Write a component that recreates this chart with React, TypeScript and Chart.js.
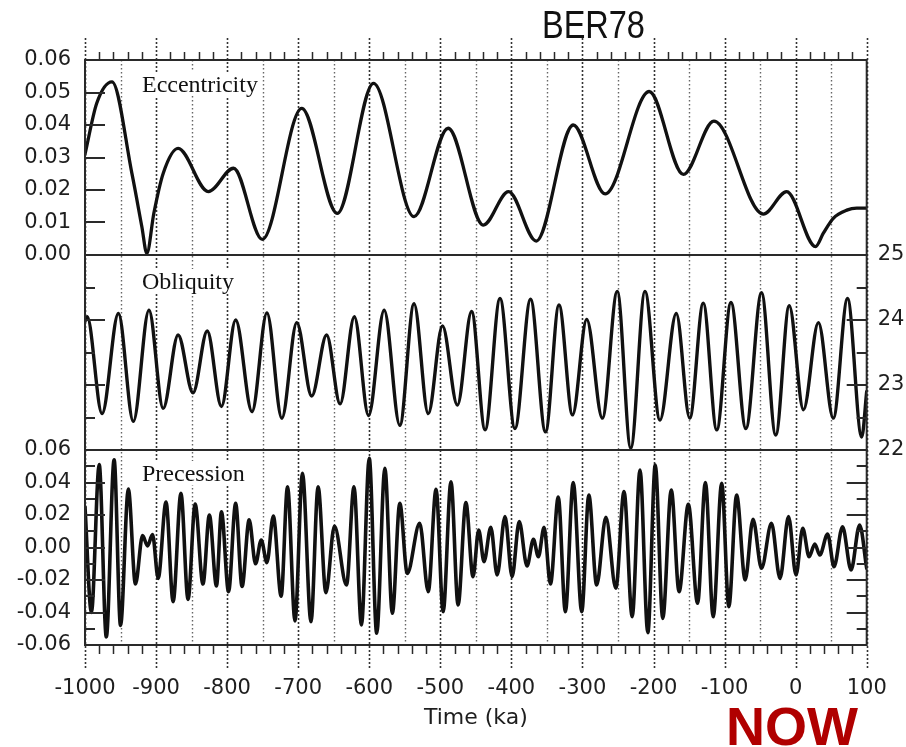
import React, { useEffect, useRef } from 'react';
import { Chart, registerables } from 'chart.js';

Chart.register(...registerables);

// ---------- data (time in ka, value) ----------
const eccTime = [-1000, -983.5, -962, -934, -920, -913, -903, -890, -869, -826.5, -791, -750.5, -695, -645, -594, -537, -489, -439.5, -404, -365, -313, -268, -206, -158, -115, -45.5, -12.6, 28, 39, 53, 72, 86, 100];
const eccValue = [0.031, 0.0467, 0.0533, 0.0251, 0.0087, 0.0005, 0.013, 0.0251, 0.0328, 0.0195, 0.0267, 0.0048, 0.0451, 0.0128, 0.0528, 0.0118, 0.039, 0.0092, 0.0195, 0.0043, 0.04, 0.0188, 0.0503, 0.0248, 0.0412, 0.0126, 0.0195, 0.0026, 0.0067, 0.0113, 0.0138, 0.0144, 0.0144];

const oblTime = [-1000, -997, -976, -953, -932, -910, -890, -869, -848, -828, -808, -788, -765, -744, -723, -702, -681, -660, -641, -621, -601, -579, -557, -537, -517, -497, -476, -456, -437, -416, -395, -373, -352, -333, -314, -294, -272, -251, -232, -212, -191, -168, -149, -130, -111, -91, -70, -48, -28, -9, 11, 32, 53, 73, 93, 100];
const oblValue = [23.98, 24.05, 22.56, 24.1, 22.44, 24.15, 22.64, 23.77, 22.88, 23.83, 22.67, 24.0, 22.59, 24.11, 22.49, 23.96, 22.83, 23.77, 22.71, 24.05, 22.53, 24.15, 22.38, 24.25, 22.56, 23.91, 22.69, 24.13, 22.31, 24.33, 22.33, 24.32, 22.28, 24.23, 22.54, 24.01, 22.49, 24.44, 22.03, 24.44, 22.46, 24.1, 22.49, 24.26, 22.31, 24.27, 22.33, 24.42, 22.23, 24.22, 22.62, 23.96, 22.49, 24.33, 22.2, 22.9];

const preTime = [-1000, -991, -980, -970, -959, -950, -939, -929, -919, -912, -905, -897, -886, -876, -865, -855, -845, -834, -825, -815, -808, -798, -788, -779, -769, -760, -752, -744, -735, -724, -715, -704.5, -694, -682, -672, -661, -649, -632, -621.5, -611, -600, -589.5, -578, -567.5, -557, -546.5, -529, -517, -506, -496, -485, -475, -464, -454, -446, -438.5, -429, -420, -409, -399, -389, -378, -369, -362, -354, -345, -334, -324, -313, -301, -291, -280, -267, -253, -241.5, -230, -219, -208, -197.5, -187, -175, -164, -151, -138, -127, -116, -104, -94, -83, -71, -60, -48, -34, -22, -10, 0.5, 10, 19, 27, 34, 45, 54, 66, 78, 90, 100];
const preValue = [0.025, -0.04, 0.051, -0.055, 0.054, -0.048, 0.036, -0.0225, 0.0073, 0.001, 0.008, -0.019, 0.028, -0.0333, 0.0333, -0.032, 0.0268, -0.0225, 0.02, -0.0237, 0.022, -0.0272, 0.0272, -0.024, 0.017, -0.01, 0.0046, -0.0093, 0.0194, -0.03, 0.0374, -0.0452, 0.0457, -0.0457, 0.0374, -0.0278, 0.0132, -0.0231, 0.0374, -0.0477, 0.0549, -0.0528, 0.0487, -0.0405, 0.0272, -0.0159, 0.0149, -0.0272, 0.0358, -0.0395, 0.0405, -0.0354, 0.0276, -0.018, 0.0108, -0.0087, 0.0124, -0.0169, 0.019, -0.018, 0.0159, -0.0114, 0.005, -0.0057, 0.0124, -0.0225, 0.031, -0.0395, 0.04, -0.0395, 0.0323, -0.0231, 0.0186, -0.0251, 0.0344, -0.0426, 0.0477, -0.0524, 0.0508, -0.0436, 0.0354, -0.0272, 0.0266, -0.0343, 0.04, -0.0426, 0.0395, -0.0364, 0.0323, -0.02, 0.0174, -0.0128, 0.0149, -0.019, 0.019, -0.0169, 0.0118, -0.0057, 0.0022, -0.0046, 0.0083, -0.0118, 0.0128, -0.0138, 0.0138, -0.0128];

// axis ranges and tick marks
const timeRange = [-1000, 100];
const eccRange = [0, 0.06];
const oblRange = [22, 25];
const preRange = [-0.06, 0.06];
const eccInnerTicks = [0.01, 0.02, 0.03, 0.04, 0.05];
const oblInnerTicks = [22.5, 23, 23.5, 24, 24.5];
const preInnerTicks = [-0.05, -0.04, -0.03, -0.02, -0.01, 0, 0.01, 0.02, 0.03, 0.04, 0.05];

const toXY = (t: number[], v: number[]) => t.map((x, i) => ({ x, y: v[i] }));

const INK = '#1e1e1e';
const tickFont = { family: '"DejaVu Sans", Verdana, sans-serif', size: 21 };

const decorPlugin = {
  id: 'decor',
  beforeDatasetsDraw(chart: any) {
    const { ctx, chartArea } = chart;
    const x = chart.scales.x;
    ctx.save();
    for (let v = timeRange[0]; v <= timeRange[1]; v += 50) {
      const px = Math.round(x.getPixelForValue(v)) + 0.5;
      const major = v % 100 === 0;
      ctx.beginPath();
      ctx.setLineDash(major ? [2, 2] : [1.5, 2.5]);
      ctx.strokeStyle = major ? '#333' : '#666';
      ctx.lineWidth = major ? 1.6 : 1.4;
      ctx.moveTo(px, major ? chartArea.top - 22 : chartArea.top);
      ctx.lineTo(px, major ? chartArea.bottom + 23 : chartArea.bottom);
      ctx.stroke();
    }
    ctx.restore();
  },
  afterDatasetsDraw(chart: any) {
    const { ctx, chartArea } = chart;
    const x = chart.scales.x;
    const panels = [chart.scales.yE, chart.scales.yO, chart.scales.yP];
    const L = chartArea.left;
    const R = chartArea.right;
    ctx.save();
    ctx.setLineDash([]);
    ctx.strokeStyle = '#2a2a2a';
    // minor time ticks (20 ka) on top and bottom edges
    ctx.beginPath();
    for (let v = timeRange[0]; v <= timeRange[1]; v += 20) {
      if (v % 100 === 0) continue;
      const px = Math.round(x.getPixelForValue(v)) + 0.5;
      ctx.moveTo(px, chartArea.top);
      ctx.lineTo(px, chartArea.top - 8);
      ctx.moveTo(px, chartArea.bottom);
      ctx.lineTo(px, chartArea.bottom + 9);
    }
    ctx.lineWidth = 1.5;
    ctx.stroke();
    // inward value ticks
    ctx.lineWidth = 2;
    ctx.beginPath();
    const yE = chart.scales.yE, yO = chart.scales.yO, yP = chart.scales.yP;
    eccInnerTicks.forEach((v) => {
      const py = Math.round(yE.getPixelForValue(v));
      ctx.moveTo(L, py); ctx.lineTo(L + 20, py);
    });
    oblInnerTicks.forEach((v) => {
      const py = Math.round(yO.getPixelForValue(v));
      const len = Number.isInteger(v) ? 20 : 10;
      ctx.moveTo(L, py); ctx.lineTo(L + len, py);
      ctx.moveTo(R, py); ctx.lineTo(R - len, py);
    });
    preInnerTicks.forEach((v) => {
      const py = Math.round(yP.getPixelForValue(v));
      const len = Math.round(v * 100) % 2 === 0 ? 20 : 10;
      ctx.moveTo(L, py); ctx.lineTo(L + len, py);
      ctx.moveTo(R, py); ctx.lineTo(R - len, py);
    });
    ctx.stroke();
    // panel frames
    panels.forEach((s: any) => {
      ctx.strokeRect(L, s.top, R - L, s.bottom - s.top);
    });
    ctx.restore();
  },
};

const hiddenY = (min: number, max: number, position: string, stack: string, weight: number, width: number) => ({
  type: 'linear',
  position,
  stack,
  weight,
  min,
  max,
  ticks: { display: false },
  grid: { display: false, drawTicks: false },
  border: { display: false },
  afterFit: (s: any) => { s.width = width; },
});

export default function App() {
  const ref = useRef<HTMLCanvasElement | null>(null);

  useEffect(() => {
    if (!ref.current) return;
    const line = (data: any, yAxisID: string, w: number) => ({
      data,
      yAxisID,
      xAxisID: 'x',
      borderColor: '#111',
      borderWidth: w,
      pointRadius: 0,
      fill: false,
      cubicInterpolationMode: 'monotone',
      borderJoinStyle: 'round',
      borderCapStyle: 'round',
    });
    const chart = new Chart(ref.current, {
      type: 'line',
      data: {
        datasets: [
          line(toXY(eccTime, eccValue), 'yE', 3.3),
          line(toXY(oblTime, oblValue), 'yO', 3.4),
          line(toXY(preTime, preValue), 'yP', 3.6),
        ] as any,
      },
      options: {
        animation: false,
        responsive: true,
        maintainAspectRatio: false,
        layout: { padding: { top: 60, left: 0, right: 0, bottom: 0 } },
        plugins: { legend: { display: false }, tooltip: { enabled: false }, title: { display: false } },
        scales: {
          x: {
            type: 'linear',
            position: 'bottom',
            min: timeRange[0],
            max: timeRange[1],
            ticks: {
              stepSize: 100,
              autoSkip: false,
              maxRotation: 0,
              padding: 0,
              color: INK,
              font: tickFont,
              callback: (v: any) => String(v),
            },
            grid: { display: true, drawOnChartArea: false, drawTicks: true, tickLength: 31, tickColor: 'rgba(0,0,0,0)', color: 'rgba(0,0,0,0)' },
            border: { display: false },
            title: {
              display: true,
              text: 'Time (ka)',
              color: INK,
              font: { family: tickFont.family, size: 22 },
              padding: { top: 0, bottom: 16 },
            },
            afterFit: (s: any) => { s.height = 102; },
          },
          yE: {
            type: 'linear',
            position: 'left',
            stack: 'L',
            weight: 3,
            min: eccRange[0],
            max: eccRange[1],
            ticks: {
              stepSize: 0.01,
              autoSkip: false,
              padding: 14,
              color: INK,
              font: tickFont,
              callback: (v: any) => Number(v).toFixed(2),
            },
            grid: { display: false, drawTicks: false },
            border: { display: false },
            afterFit: (s: any) => { s.width = 85; },
          },
          yO: hiddenY(oblRange[0], oblRange[1], 'left', 'L', 2, 85),
          yP: {
            type: 'linear',
            position: 'left',
            stack: 'L',
            weight: 1,
            min: preRange[0],
            max: preRange[1],
            ticks: {
              stepSize: 0.02,
              autoSkip: false,
              padding: 14,
              color: INK,
              font: tickFont,
              callback: (v: any) => (Math.abs(v) < 1e-9 ? '0.00' : Number(v).toFixed(2)),
            },
            grid: { display: false, drawTicks: false },
            border: { display: false },
            afterFit: (s: any) => { s.width = 85; },
          },
          rE: hiddenY(eccRange[0], eccRange[1], 'right', 'R', 1, 39.3),
          rO: {
            type: 'linear',
            position: 'right',
            stack: 'R',
            weight: 2,
            min: oblRange[0],
            max: oblRange[1],
            ticks: {
              stepSize: 1,
              autoSkip: false,
              padding: 11,
              color: INK,
              font: tickFont,
              callback: (v: any) => String(v),
            },
            grid: { display: false, drawTicks: false },
            border: { display: false },
            afterFit: (s: any) => { s.width = 39.3; },
          },
          rP: hiddenY(preRange[0], preRange[1], 'right', 'R', 3, 39.3),
        } as any,
      },
      plugins: [decorPlugin],
    });
    return () => chart.destroy();
  }, []);

  const serif = '24px "Liberation Serif", "Times New Roman", serif';
  const panelLabel = (text: string, top: number) => (
    <div style={{ position: 'absolute', left: 140, top, font: serif, lineHeight: '24px', color: '#111', background: '#fff', padding: '0 2px', whiteSpace: 'nowrap' }}>{text}</div>
  );

  return (
    <div style={{ position: 'fixed', left: 0, top: 0, width: 906, height: 747, background: '#fff', overflow: 'hidden' }}>
      <canvas ref={ref} style={{ position: 'absolute', left: 0, top: 0, width: 906, height: 747 }} />
      <div style={{ position: 'absolute', left: 542, top: 6, font: '38px "Liberation Sans", Arial, sans-serif', lineHeight: '38px', color: '#111', transform: 'scaleX(0.855)', transformOrigin: 'left top', whiteSpace: 'nowrap' }}>BER78</div>
      {panelLabel('Eccentricity', 71.6)}
      {panelLabel('Obliquity', 269.4)}
      {panelLabel('Precession', 461)}
      <div style={{ position: 'absolute', left: 726, top: 699, font: 'bold 54px "Liberation Sans", Arial, sans-serif', lineHeight: '54px', color: '#b00000', whiteSpace: 'nowrap' }}>NOW</div>
    </div>
  );
}
